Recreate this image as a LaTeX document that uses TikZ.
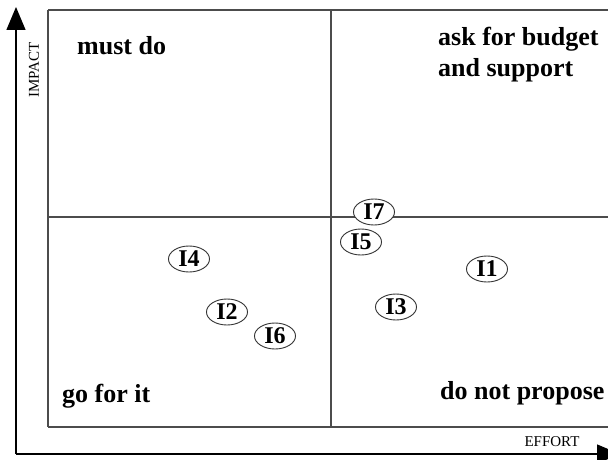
\documentclass[tikz,border=0pt]{standalone}
\usepackage{fontspec}
\setmainfont{Liberation Serif}
\usetikzlibrary{arrows.meta,shapes.geometric}
\newcommand{\quadfont}{\fontsize{26}{31}\selectfont\bfseries}
\newcommand{\issuefont}{\fontsize{24}{28}\selectfont\bfseries}

\begin{document}
\begin{tikzpicture}[x=1pt,y=-1pt,
    quad/.style={anchor=base west, inner sep=0pt, font=\quadfont, align=left},
    axislabel/.style={inner sep=0pt, font=\fontsize{15}{18}\selectfont},
    issue/.style={ellipse, draw=black!80, fill=white, line width=0.9pt, inner sep=0pt,
      minimum width=41pt, minimum height=26pt, font=\issuefont}]
  \clip (0,0) rectangle (608,460);
  \def\xl{48}  \def\xm{331}  \def\xr{620}
  \def\yt{10}  \def\ym{217}  \def\yb{427}
  % quadrants
  \draw[black!70, line width=1.2pt] (\xl,\yt) -- (\xr,\yt);
  \draw[black!70, line width=1.2pt] (\xl,\yb) -- (\xr,\yb);
  \draw[black!70, line width=1.2pt] (\xl,\yt) -- (\xl,\yb);
  \draw[black!70, line width=1.2pt] (\xm,\yt) -- (\xm,\yb);
  \draw[black!70, line width=1.2pt] (\xl,\ym) -- (\xr,\ym);
  % axes
  \draw[line width=1.3pt, -{Triangle[length=23pt,width=19pt]}] (16,454) -- (16,7);
  \draw[line width=1.3pt, -{Triangle[length=23pt,width=19pt]}] (16,454) -- (620,454);
  \node[axislabel, rotate=90] (impact) at (34,70) {IMPACT};
  \node[axislabel] (effort) at (552,442) {EFFORT};
  % quadrant labels (base = last line)
  \node[quad] (mustdo) at (77,55) {must do};
  \node[quad] (askfor) at (438,77) {ask for budget\\and support};
  \node[quad] (gofor) at (62,402) {go for it};
  \node[quad] (donot) at (440,399) {do not propose};
  % issues
  \foreach \n/\x/\y in {1/487/269, 2/227/312, 3/396/307, 4/189/259,
                        5/361/242, 6/275/336, 7/374/212}{
    \node[issue] (i\n) at (\x,\y) {I\n};
  }
\end{tikzpicture}
\end{document}
